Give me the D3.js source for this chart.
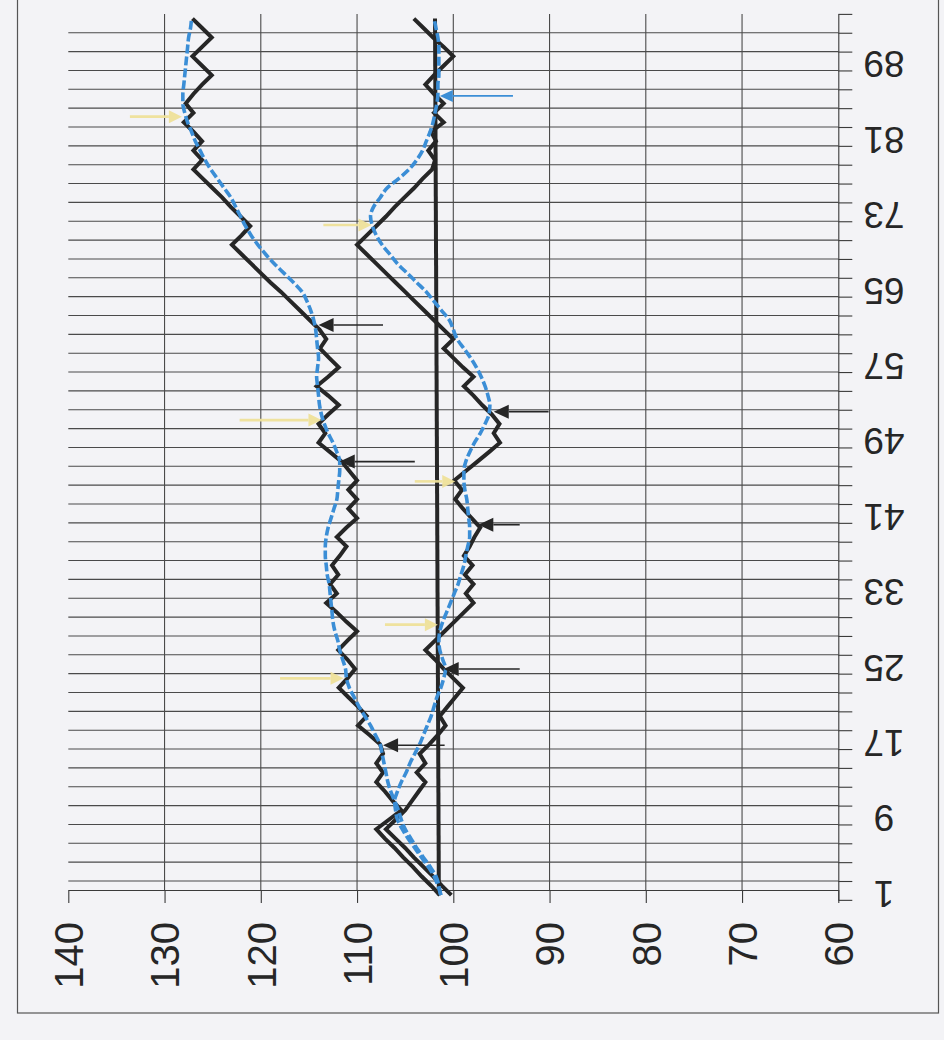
<!DOCTYPE html>
<html>
<head>
<meta charset="utf-8">
<script src="https://cdn.jsdelivr.net/npm/d3@7"></script>
<style>
  html, body { margin: 0; padding: 0; background: #f3f3f6; }
  svg { display: block; }
  text { font-family: "Liberation Sans", Arial, sans-serif; fill: #262626; }
</style>
</head>
<body>
<svg id="chart" width="944" height="1040"></svg>
<script>
// ---------- data ----------
const categories = d3.range(1, 95);                 // categories 1 .. 94
const categoryLabels = [1, 9, 17, 25, 33, 41, 49, 57, 65, 73, 81, 89];
const valueTicks = [140, 130, 120, 110, 100, 90, 80, 70, 60];
const valueGrid = [130, 120, 110, 100, 90, 80, 70];

const seriesA = [
  101.4, 102.3, 103.3, 104.2, 105.2, 106.1, 107.1, 108.0, 106.7, 105.4,
  106.3, 107.1, 108.0, 107.3, 108.0, 107.3, 107.6, 108.7, 109.9, 109.0,
  109.9, 110.9, 111.9, 111.0, 110.2, 111.0, 111.95, 111.0, 110.0, 111.1,
  112.1, 113.2, 112.1, 112.8, 111.95, 112.6, 111.8, 111.1, 112.1, 111.1,
  110.0, 110.9, 110.0, 110.9, 110.0, 110.8, 111.6, 112.8, 114.0, 113.3,
  114.0, 113.0, 111.9, 113.0, 114.2, 113.0, 111.9, 112.9, 113.85, 113.2,
  113.9, 114.9, 115.9, 116.9, 117.9, 119.0, 120.0, 121.0, 122.0, 123.0,
  122.0, 121.1, 122.1, 123.1, 124.0, 125.0, 126.0, 127.0, 126.1, 127.0,
  126.1, 127.0, 128.0, 127.0, 127.8, 127.0, 126.1, 125.1, 126.1, 127.1,
  126.1, 125.1, 126.1, 127.1
];
const seriesB = [
  100.2, 101.2, 102.1, 103.1, 104.1, 105.0, 106.0, 107.0, 106.0, 105.0,
  104.3, 103.6, 102.9, 103.8, 102.9, 103.5, 102.5, 101.6, 100.8, 101.4,
  100.6, 99.8, 99.0, 100.0, 101.0, 101.9, 102.9, 101.9, 100.9, 99.9,
  98.9, 97.9, 98.7, 97.9, 98.8, 98.0, 98.9, 98.3, 97.8, 97.2,
  98.1, 99.0, 99.8, 99.1, 99.9, 98.7, 97.5, 96.3, 95.15, 95.8,
  95.2, 96.0, 97.0, 97.9, 98.9, 97.9, 99.0, 100.0, 101.0, 100.0,
  101.0, 102.0, 103.0, 104.0, 105.0, 106.0, 107.0, 108.0, 109.0, 110.0,
  109.0, 108.0, 107.0, 106.1, 105.1, 104.1, 103.2, 102.2, 101.9, 102.6,
  101.8, 102.3, 101.0, 102.0, 101.0, 102.0, 102.9, 102.0, 101.0, 100.0,
  101.0, 102.1, 103.1, 104.1
];
const smoothA = [
  101.3, 101.5, 101.8, 102.4, 103.1, 103.8, 104.4, 105.0, 105.4, 105.7,
  106.1, 106.5, 106.8, 107.0, 107.2, 107.4, 107.6, 108.1, 108.6, 109.2,
  109.8, 110.3, 110.8, 111.1, 111.2, 111.5, 111.8, 112.0, 112.3, 112.5,
  112.6, 112.7, 112.8, 112.9, 113.1, 113.2, 113.3, 113.3, 113.2, 113.0,
  112.7, 112.4, 112.1, 112.0, 111.9, 111.8, 111.8, 112.1, 112.5, 113.0,
  113.4, 113.7, 113.9, 114.0, 114.1, 114.2, 114.1, 114.0, 114.1, 114.2,
  114.3, 114.5, 114.8, 115.2, 115.7, 116.6, 117.6, 118.6, 119.5, 120.3,
  121.0, 121.6, 122.1, 122.6, 123.1, 123.8, 124.5, 125.2, 125.8, 126.3,
  126.8, 127.2, 127.6, 127.9, 128.1, 128.1, 128.0, 127.9, 127.8, 127.7,
  127.6, 127.5, 127.3, 127.2
];
const smoothB = [
  101.3, 101.6, 102.0, 102.6, 103.3, 104.0, 104.7, 105.3, 105.8, 106.0,
  106.1, 105.8, 105.4, 104.9, 104.5, 104.0, 103.5, 103.1, 102.7, 102.3,
  102.0, 101.7, 101.3, 101.0, 100.8, 101.1, 101.4, 101.5, 101.4, 101.1,
  100.7, 100.3, 99.9, 99.5, 99.2, 98.9, 98.7, 98.5, 98.3, 98.3,
  98.4, 98.5, 98.6, 98.8, 98.9, 98.9, 98.7, 98.3, 97.8, 97.2,
  96.7, 96.3, 96.2, 96.4, 96.7, 97.1, 97.6, 98.2, 98.9, 99.6,
  100.0, 100.4, 101.2, 102.0, 102.8, 103.8, 104.8, 105.8, 106.6, 107.4,
  108.0, 108.4, 108.6, 108.3, 107.6, 106.9, 105.7, 104.6, 103.8, 103.2,
  102.8, 102.4, 102.1, 101.9, 101.7, 101.6, 101.6, 101.5, 101.5, 101.5,
  101.5, 101.6, 101.8, 102.0
];
// reference line: [category, value]
const referenceLine = [[1, 101.5], [94, 101.9]];

// annotation arrows: category, tip value, tail value
const yellowArrows = [
  { c: 83.6, tip: 128.2, tail: 133.6 },
  { c: 72.1, tip: 108.5, tail: 113.5 },
  { c: 51.4, tip: 113.7, tail: 122.2 },
  { c: 44.9, tip: 99.8,  tail: 104.0 },
  { c: 29.7, tip: 101.6, tail: 107.1 },
  { c: 24.0, tip: 111.4, tail: 118.0 }
];
const blackArrows = [
  { c: 61.5, tip: 114.0, tail: 107.3 },
  { c: 52.3, tip: 95.8,  tail: 90.1 },
  { c: 47.0, tip: 111.8, tail: 104.0 },
  { c: 40.3, tip: 97.4,  tail: 93.1 },
  { c: 25.0, tip: 101.0, tail: 93.1 },
  { c: 16.9, tip: 107.3, tail: 100.9 }
];
const blueArrows = [
  { c: 85.8, tip: 101.4, tail: 93.8 }
];

// ---------- layout ----------
const svg = d3.select('#chart');
const x = d3.scaleLinear().domain([140, 60]).range([68.3, 838.3]);
const y = d3.scaleLinear().domain([0.5, 94.5]).range([899.85, 13.9]);
const axisY = y(1.55);
const BLACK = '#262626', BLUE = '#3b8ed6', YELLOW = '#efe29a';

// outer border
svg.append('rect').attr('x', 17.5).attr('y', -3).attr('width', 921).attr('height', 1016)
  .attr('fill', 'none').attr('stroke', '#555').attr('stroke-width', 1.2);

// gridlines
const boundaries = d3.range(0.5, 95, 2);
const g = svg.append('g');
g.selectAll('.hg').data(boundaries.filter(b => b > 1 && b < 94))
  .enter().append('line')
  .attr('x1', x(140)).attr('x2', x(60))
  .attr('y1', d => y(d)).attr('y2', d => y(d))
  .attr('stroke', '#4a4a4a').attr('stroke-width', 1.1);
g.selectAll('.vg').data(valueGrid)
  .enter().append('line')
  .attr('x1', d => x(d)).attr('x2', d => x(d))
  .attr('y1', y(94.5)).attr('y2', axisY)
  .attr('stroke', '#4a4a4a').attr('stroke-width', 1.1);

// value axis (horizontal, bottom)
const vAxis = svg.append('g').attr('transform', `translate(0,${axisY})`)
  .call(d3.axisBottom(x).tickValues(valueTicks).tickSize(13).tickSizeOuter(0));
vAxis.select('.domain').attr('stroke', '#3a3a3a').attr('stroke-width', 1.1);
vAxis.selectAll('.tick line').attr('stroke', '#3a3a3a').attr('stroke-width', 1.1);
vAxis.selectAll('.tick text')
  .attr('x', 0).attr('y', 0).attr('dy', '0.36em')
  .attr('transform', 'translate(0,32) rotate(-90)')
  .attr('text-anchor', 'end')
  .style('font-size', '40px').style('font-family', '"Liberation Sans", Arial, sans-serif')
  .attr('fill', '#262626');

// category axis (vertical, right)
const cAxis = svg.append('g').attr('transform', `translate(${x(60)},0)`)
  .call(d3.axisRight(y).tickValues(boundaries).tickSize(14).tickSizeOuter(0).tickFormat(''));
cAxis.select('.domain').attr('stroke', '#3a3a3a').attr('stroke-width', 1.1);
cAxis.selectAll('.tick line').attr('stroke', '#3a3a3a').attr('stroke-width', 1.1);

svg.append('g').selectAll('text').data(categoryLabels).enter().append('text')
  .attr('transform', d => `translate(884,${y(d) - 1}) rotate(180)`)
  .attr('text-anchor', 'middle').attr('dy', '0.36em')
  .style('font-size', '37px')
  .text(d => d);

// ---------- series ----------
const line = d3.line().x(d => x(d[1])).y(d => y(d[0]));
const zipped = arr => categories.map((c, i) => [c, arr[i]]);

svg.append('path').datum(referenceLine).attr('d', line)
  .attr('fill', 'none').attr('stroke', BLACK).attr('stroke-width', 4);

[seriesA, seriesB].forEach(s => {
  svg.append('path').datum(zipped(s)).attr('d', line)
    .attr('fill', 'none').attr('stroke', BLACK).attr('stroke-width', 4)
    .attr('stroke-linejoin', 'miter').attr('stroke-miterlimit', 10);
});

const curve = d3.line().x(d => x(d[1])).y(d => y(d[0])).curve(d3.curveMonotoneY);
[smoothA, smoothB].forEach(s => {
  svg.append('path').datum(zipped(s)).attr('d', curve)
    .attr('fill', 'none').attr('stroke', BLUE).attr('stroke-width', 3.6)
    .attr('stroke-dasharray', '9,3');
});

// ---------- arrows ----------
function drawArrows(list, color, shaftW, headL, headW, opacity) {
  const ag = svg.append('g').attr('opacity', opacity);
  list.forEach(a => {
    const yy = y(a.c), xt = x(a.tip), xs = x(a.tail);
    const dir = Math.sign(xt - xs);
    const xb = xt - dir * headL;
    ag.append('line').attr('x1', xs).attr('x2', xb).attr('y1', yy).attr('y2', yy)
      .attr('stroke', color).attr('stroke-width', shaftW);
    ag.append('path')
      .attr('d', `M${xt},${yy} L${xb},${yy - headW / 2} L${xb},${yy + headW / 2} Z`)
      .attr('fill', color);
  });
}
drawArrows(yellowArrows, YELLOW, 2.6, 13, 13, 0.95);
drawArrows(blackArrows, BLACK, 1.6, 15, 14, 1);
drawArrows(blueArrows, BLUE, 1.6, 13, 12, 1);
</script>
</body>
</html>
